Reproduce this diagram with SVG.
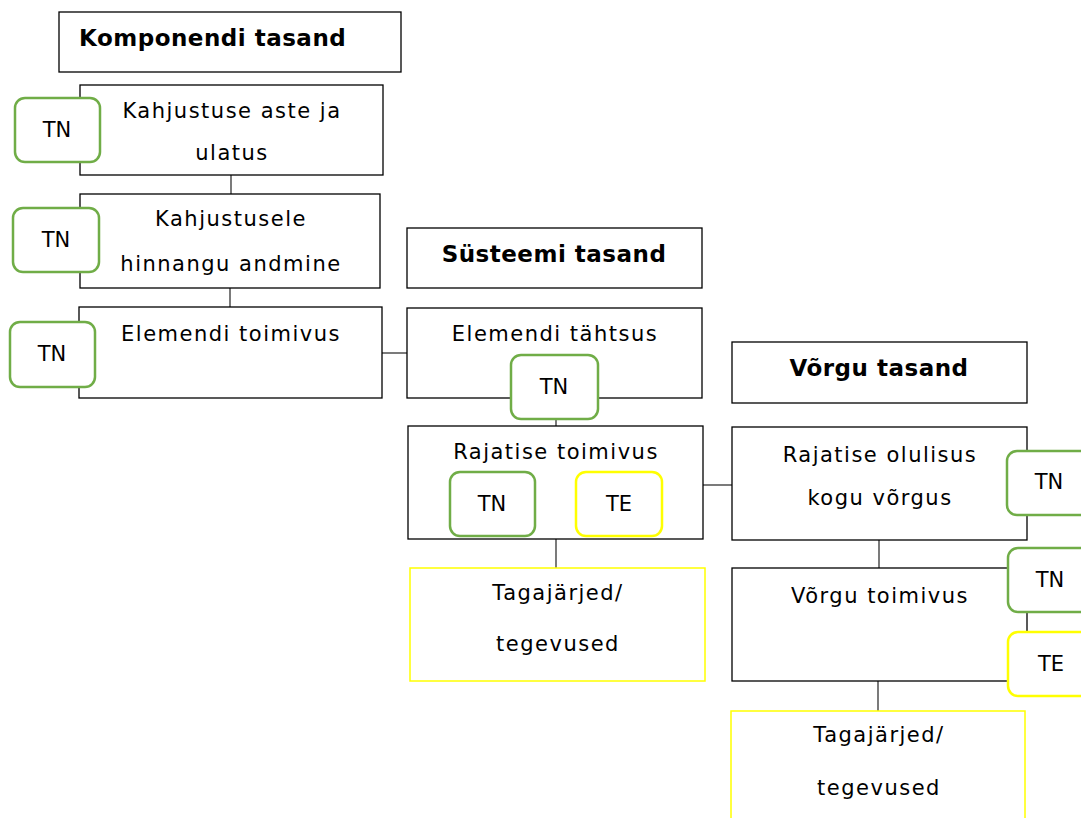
<svg xmlns="http://www.w3.org/2000/svg" width="1081" height="818" viewBox="0 0 1081 818">
<style>
.box{fill:#fff;stroke:#000;stroke-width:1.3}
.ybox{fill:#fff;stroke:#ffff00;stroke-width:1.5}
.gb{fill:#fff;stroke:#70ad47;stroke-width:2.5}
.yb{fill:#fff;stroke:#ffff00;stroke-width:2.5}
.t{font-family:"DejaVu Sans",Verdana,sans-serif;font-size:21px;letter-spacing:1.5px;fill:#000;text-anchor:middle}
.k{font-family:"DejaVu Sans",Verdana,sans-serif;font-size:21px;fill:#000;text-anchor:middle}
.b{font-family:"DejaVu Sans",Verdana,sans-serif;font-size:23px;font-weight:bold;letter-spacing:0.5px;fill:#000}
.c{stroke:#333;stroke-width:1.3;fill:none}
</style>
<rect width="1081" height="818" fill="#fff"/>
<g id="connectors">
<line class="c" x1="231" y1="175" x2="231" y2="194"/>
<line class="c" x1="230" y1="288" x2="230" y2="307"/>
<line class="c" x1="382" y1="353" x2="407" y2="353"/>
<line class="c" x1="556" y1="419" x2="556" y2="426"/>
<line class="c" x1="556" y1="539" x2="556" y2="568"/>
<line class="c" x1="703" y1="485" x2="732" y2="485"/>
<line class="c" x1="879" y1="540" x2="879" y2="568"/>
<line class="c" x1="878" y1="681" x2="878" y2="711"/>
</g>
<g id="komponendi-tasand">
<rect class="box" x="59" y="12" width="342" height="60"/>
<text class="b" x="79" y="46">Komponendi tasand</text>
</g>
<g id="kahjustuse-aste">
<rect class="box" x="80" y="85" width="303" height="90"/>
<text class="t" x="232" y="118">Kahjustuse aste ja</text>
<text class="t" x="232" y="160">ulatus</text>
</g>
<g id="tn1">
<rect class="gb" x="15" y="98" width="85" height="64" rx="10"/>
<text class="k" x="57" y="137">TN</text>
</g>
<g id="kahjustusele">
<rect class="box" x="80" y="194" width="300" height="94"/>
<text class="t" x="231" y="226">Kahjustusele</text>
<text class="t" x="231" y="271">hinnangu andmine</text>
</g>
<g id="tn2">
<rect class="gb" x="13" y="208" width="86" height="64" rx="10"/>
<text class="k" x="56" y="247">TN</text>
</g>
<g id="elemendi-toimivus">
<rect class="box" x="79" y="307" width="303" height="91"/>
<text class="t" x="231" y="341">Elemendi toimivus</text>
</g>
<g id="tn3">
<rect class="gb" x="10" y="322" width="85" height="65" rx="10"/>
<text class="k" x="52" y="361">TN</text>
</g>
<g id="systeemi-tasand">
<rect class="box" x="407" y="228" width="295" height="60"/>
<text class="b" x="554" y="262" text-anchor="middle">Süsteemi tasand</text>
</g>
<g id="elemendi-tahtsus">
<rect class="box" x="407" y="308" width="295" height="90"/>
<text class="t" x="555" y="341">Elemendi tähtsus</text>
</g>
<g id="tn4">
<rect class="gb" x="511" y="355" width="87" height="64" rx="10"/>
<text class="k" x="554" y="394">TN</text>
</g>
<g id="rajatise-toimivus">
<rect class="box" x="408" y="426" width="295" height="113"/>
<text class="t" x="556" y="459">Rajatise toimivus</text>
</g>
<g id="tn5">
<rect class="gb" x="450" y="472" width="85" height="64" rx="10"/>
<text class="k" x="492" y="511">TN</text>
</g>
<g id="te1">
<rect class="yb" x="576" y="472" width="86" height="64" rx="10"/>
<text class="k" x="619" y="511">TE</text>
</g>
<g id="tagajarjed1">
<rect class="ybox" x="410" y="568" width="295" height="113"/>
<text class="t" x="558" y="600">Tagajärjed/</text>
<text class="t" x="558" y="651">tegevused</text>
</g>
<g id="vorgu-tasand">
<rect class="box" x="732" y="342" width="295" height="61"/>
<text class="b" x="879" y="376" text-anchor="middle">Võrgu tasand</text>
</g>
<g id="rajatise-olulisus">
<rect class="box" x="732" y="427" width="295" height="113"/>
<text class="t" x="880" y="462">Rajatise olulisus</text>
<text class="t" x="880" y="505">kogu võrgus</text>
</g>
<g id="tn6">
<rect class="gb" x="1007" y="451" width="90" height="64" rx="10"/>
<text class="k" x="1049" y="489">TN</text>
</g>
<g id="vorgu-toimivus">
<rect class="box" x="732" y="568" width="295" height="113"/>
<text class="t" x="880" y="603">Võrgu toimivus</text>
</g>
<g id="tn7">
<rect class="gb" x="1008" y="548" width="90" height="64" rx="10"/>
<text class="k" x="1050" y="587">TN</text>
</g>
<g id="te2">
<rect class="yb" x="1008" y="632" width="90" height="64" rx="10"/>
<text class="k" x="1051" y="671">TE</text>
</g>
<g id="tagajarjed2">
<rect class="ybox" x="731" y="711" width="294" height="120"/>
<text class="t" x="879" y="742">Tagajärjed/</text>
<text class="t" x="879" y="795">tegevused</text>
</g>
</svg>
